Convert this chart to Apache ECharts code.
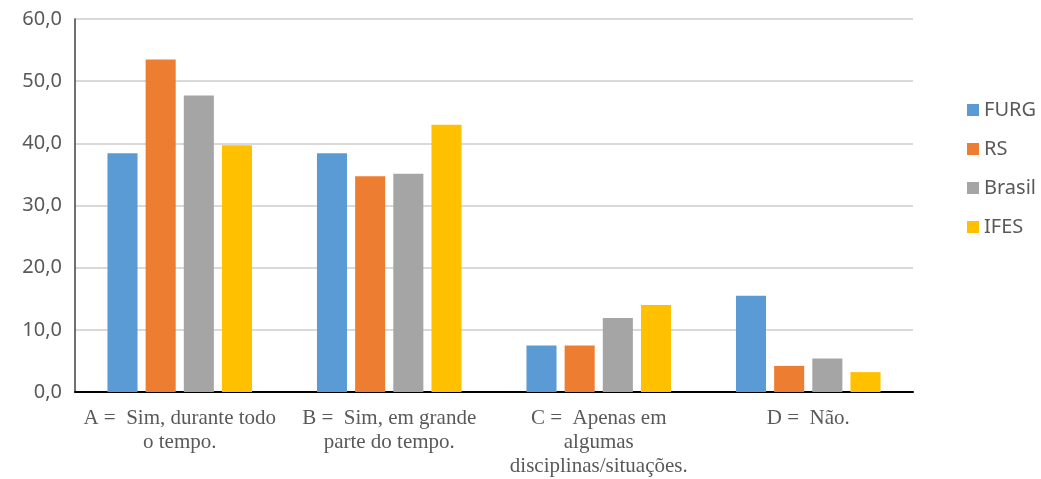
<!DOCTYPE html>
<html>
<head>
<meta charset="utf-8">
<script src="https://cdn.jsdelivr.net/npm/echarts@6/dist/echarts.min.js"></script>
<style>
    html, body { margin: 0; padding: 0; background: #fff; }
    #chart { width: 1041px; height: 479px; }
</style>
</head>
<body>
<div id="chart"></div>
<script>
// categorias do eixo x
const categories = [
    'A =  Sim, durante todo\no tempo.',
    'B =  Sim, em grande\nparte do tempo.',
    'C =  Apenas em\nalgumas\ndisciplinas/situações.',
    'D =  Não.'
]
const furg = [38.4, 38.4, 7.5, 15.5]
const rs = [53.5, 34.7, 7.5, 4.2]
const brasil = [47.7, 35.1, 11.9, 5.4]
const ifes = [39.7, 43.0, 14.0, 3.2]

const seriesNames = ['FURG', 'RS', 'Brasil', 'IFES']
const colors = ['#5b9bd5', '#ed7d31', '#a5a5a5', '#ffc000']

const chart = echarts.init(document.getElementById('chart'))

const mkBar = (name, data, i) => ({
    name: name,
    type: 'bar',
    data: data,
    barGap: '27%',
    barCategoryGap: '31%',
    itemStyle: { color: colors[i] },
})

chart.setOption({
    animation: false,
    grid: { left: 75, right: 128, top: 19, bottom: 87 },
    legend: {
        orient: 'vertical',
        left: 962,
        top: 95,
        itemWidth: 12,
        itemHeight: 12,
        itemGap: 19,
        icon: 'rect',
        textStyle: { fontFamily: 'Noto Sans', fontSize: 20, color: '#595959' },
        data: seriesNames,
    },
    xAxis: {
        type: 'category',
        data: categories,
        axisLine: { lineStyle: { color: '#000', width: 2 } },
        axisTick: { show: false },
        axisLabel: {
            interval: 0,
            margin: 14,
            fontFamily: 'Liberation Serif',
            fontSize: 21,
            lineHeight: 24,
            color: '#595959',
        },
    },
    yAxis: {
        type: 'value',
        min: 0,
        max: 60,
        interval: 10,
        axisLine: { show: true, lineStyle: { color: '#404040', width: 1.5 } },
        axisTick: { show: false },
        splitLine: { lineStyle: { color: '#d9d9d9', width: 2 } },
        axisLabel: {
            margin: 13,
            fontFamily: 'Noto Sans',
            fontSize: 20,
            color: '#595959',
            formatter: v => v.toFixed(1).replace('.', ','),
        },
    },
    series: [
        mkBar('FURG', furg, 0),
        mkBar('RS', rs, 1),
        mkBar('Brasil', brasil, 2),
        mkBar('IFES', ifes, 3),
    ],
})
</script>
</body>
</html>
